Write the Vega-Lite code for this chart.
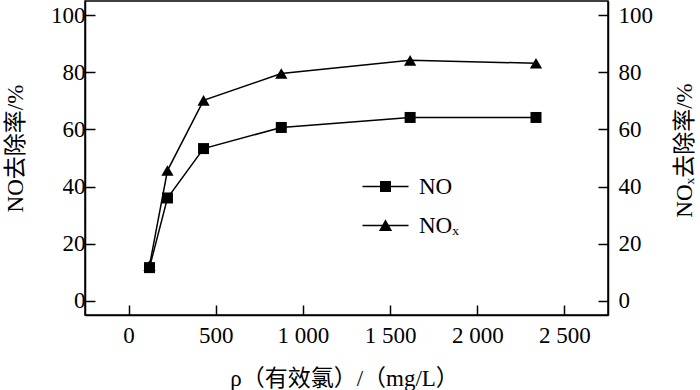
{
  "$schema": "https://vega.github.io/schema/vega-lite/v6.json",
  "width": 523,
  "height": 314,
  "autosize": {"type": "none"},
  "padding": {"left": 85, "top": 1, "right": 92, "bottom": 75},
  "background": "white",
  "config": {
    "font": "Liberation Serif",
    "view": {"stroke": "black", "strokeWidth": 1.5},
    "axis": {
      "grid": false,
      "domainColor": "black",
      "domainWidth": 1.5,
      "tickColor": "black",
      "tickWidth": 1.5,
      "tickSize": -10,
      "labelFont": "Liberation Serif",
      "labelFontSize": 23,
      "labelColor": "black",
      "titleFont": "Liberation Serif, Noto Sans CJK SC",
      "titleFontSize": 23,
      "titleFontWeight": "normal",
      "titleColor": "black",
      "titleBaseline": "middle",
      "titleAlign": "center"
    }
  },
  "data": {
    "values": [
      {"x": 120, "y": 11.6, "series": "NO"},
      {"x": 223, "y": 36.0, "series": "NO"},
      {"x": 430, "y": 53.3, "series": "NO"},
      {"x": 876, "y": 60.7, "series": "NO"},
      {"x": 1615, "y": 64.2, "series": "NO"},
      {"x": 2337, "y": 64.2, "series": "NO"},
      {"x": 120, "y": 12.3, "series": "NOₓ"},
      {"x": 223, "y": 45.6, "series": "NOₓ"},
      {"x": 430, "y": 70.2, "series": "NOₓ"},
      {"x": 876, "y": 79.6, "series": "NOₓ"},
      {"x": 1615, "y": 84.2, "series": "NOₓ"},
      {"x": 2337, "y": 83.2, "series": "NOₓ"}
    ]
  },
  "encoding": {
    "x": {
      "field": "x",
      "type": "quantitative",
      "scale": {"domain": [-250, 2750], "nice": false, "zero": false},
      "axis": {
        "values": [0, 500, 1000, 1500, 2000, 2500],
        "labelExpr": "replace(format(datum.value, ','), ',', ' ')",
        "title": "ρ（有效氯）/（mg/L）",
        "labelPadding": 19,
        "titleX": 259,
        "titleY": 63
      }
    }
  },
  "layer": [
    {
      "encoding": {
        "y": {
          "field": "y",
          "type": "quantitative",
          "scale": {"domain": [-5, 105], "nice": false},
          "axis": {
            "values": [0, 20, 40, 60, 80, 100],
            "title": "NO去除率/%",
            "labelPadding": 10,
            "titleAngle": -90,
            "titleX": -70,
            "titleY": 147
          }
        }
      },
      "layer": [
        {
          "mark": {"type": "line", "color": "black", "strokeWidth": 1.5},
          "encoding": {"detail": {"field": "series"}}
        },
        {
          "mark": {"type": "point", "filled": true, "color": "black", "opacity": 1},
          "encoding": {
            "shape": {
              "field": "series",
              "type": "nominal",
              "scale": {"domain": ["NO", "NOₓ"], "range": ["square", "triangle-up"]},
              "legend": null
            },
            "size": {
              "field": "series",
              "type": "nominal",
              "scale": {"domain": ["NO", "NOₓ"], "range": [121, 150]},
              "legend": null
            }
          }
        }
      ]
    },
    {
      "mark": {"type": "point", "filled": true, "color": "black", "opacity": 0, "size": 400},
      "encoding": {
        "y": {
          "field": "y",
          "type": "quantitative",
          "scale": {"domain": [-5, 105], "nice": false},
          "axis": {
            "orient": "right",
            "values": [0, 20, 40, 60, 80, 100],
            "title": "NOₓ去除率/%",
            "titleAngle": -90,
            "labelPadding": 20,
            "titleX": 76,
            "titleY": 149
          }
        },
        "shape": {
          "field": "series",
          "type": "nominal",
          "scale": {
            "domain": ["NO", "NOₓ"],
            "range": [
              "M-2.3,-0.075H2.3V0.075H-2.3ZM-0.55,-0.55H0.55V0.55H-0.55Z",
              "M-2.3,-0.075H2.3V0.075H-2.3ZM0,-0.62L0.66,0.55H-0.66Z"
            ]
          },
          "legend": {
            "title": null,
            "orient": "none",
            "legendX": 289,
            "legendY": 174,
            "padding": 0,
            "symbolSize": 400,
            "symbolOpacity": 1,
            "symbolFillColor": "black",
            "symbolStrokeColor": "black",
            "symbolStrokeWidth": 0,
            "labelFont": "Liberation Serif",
            "labelFontSize": 23,
            "labelColor": "black",
            "labelOffset": 22,
            "rowPadding": 15,
            "encode": {
              "symbols": {
                "update": {
                  "fill": {"value": "black"},
                  "opacity": {"value": 1}
                }
              }
            }
          }
        }
      }
    }
  ],
  "resolve": {"scale": {"y": "independent", "shape": "independent", "size": "independent"}}
}
